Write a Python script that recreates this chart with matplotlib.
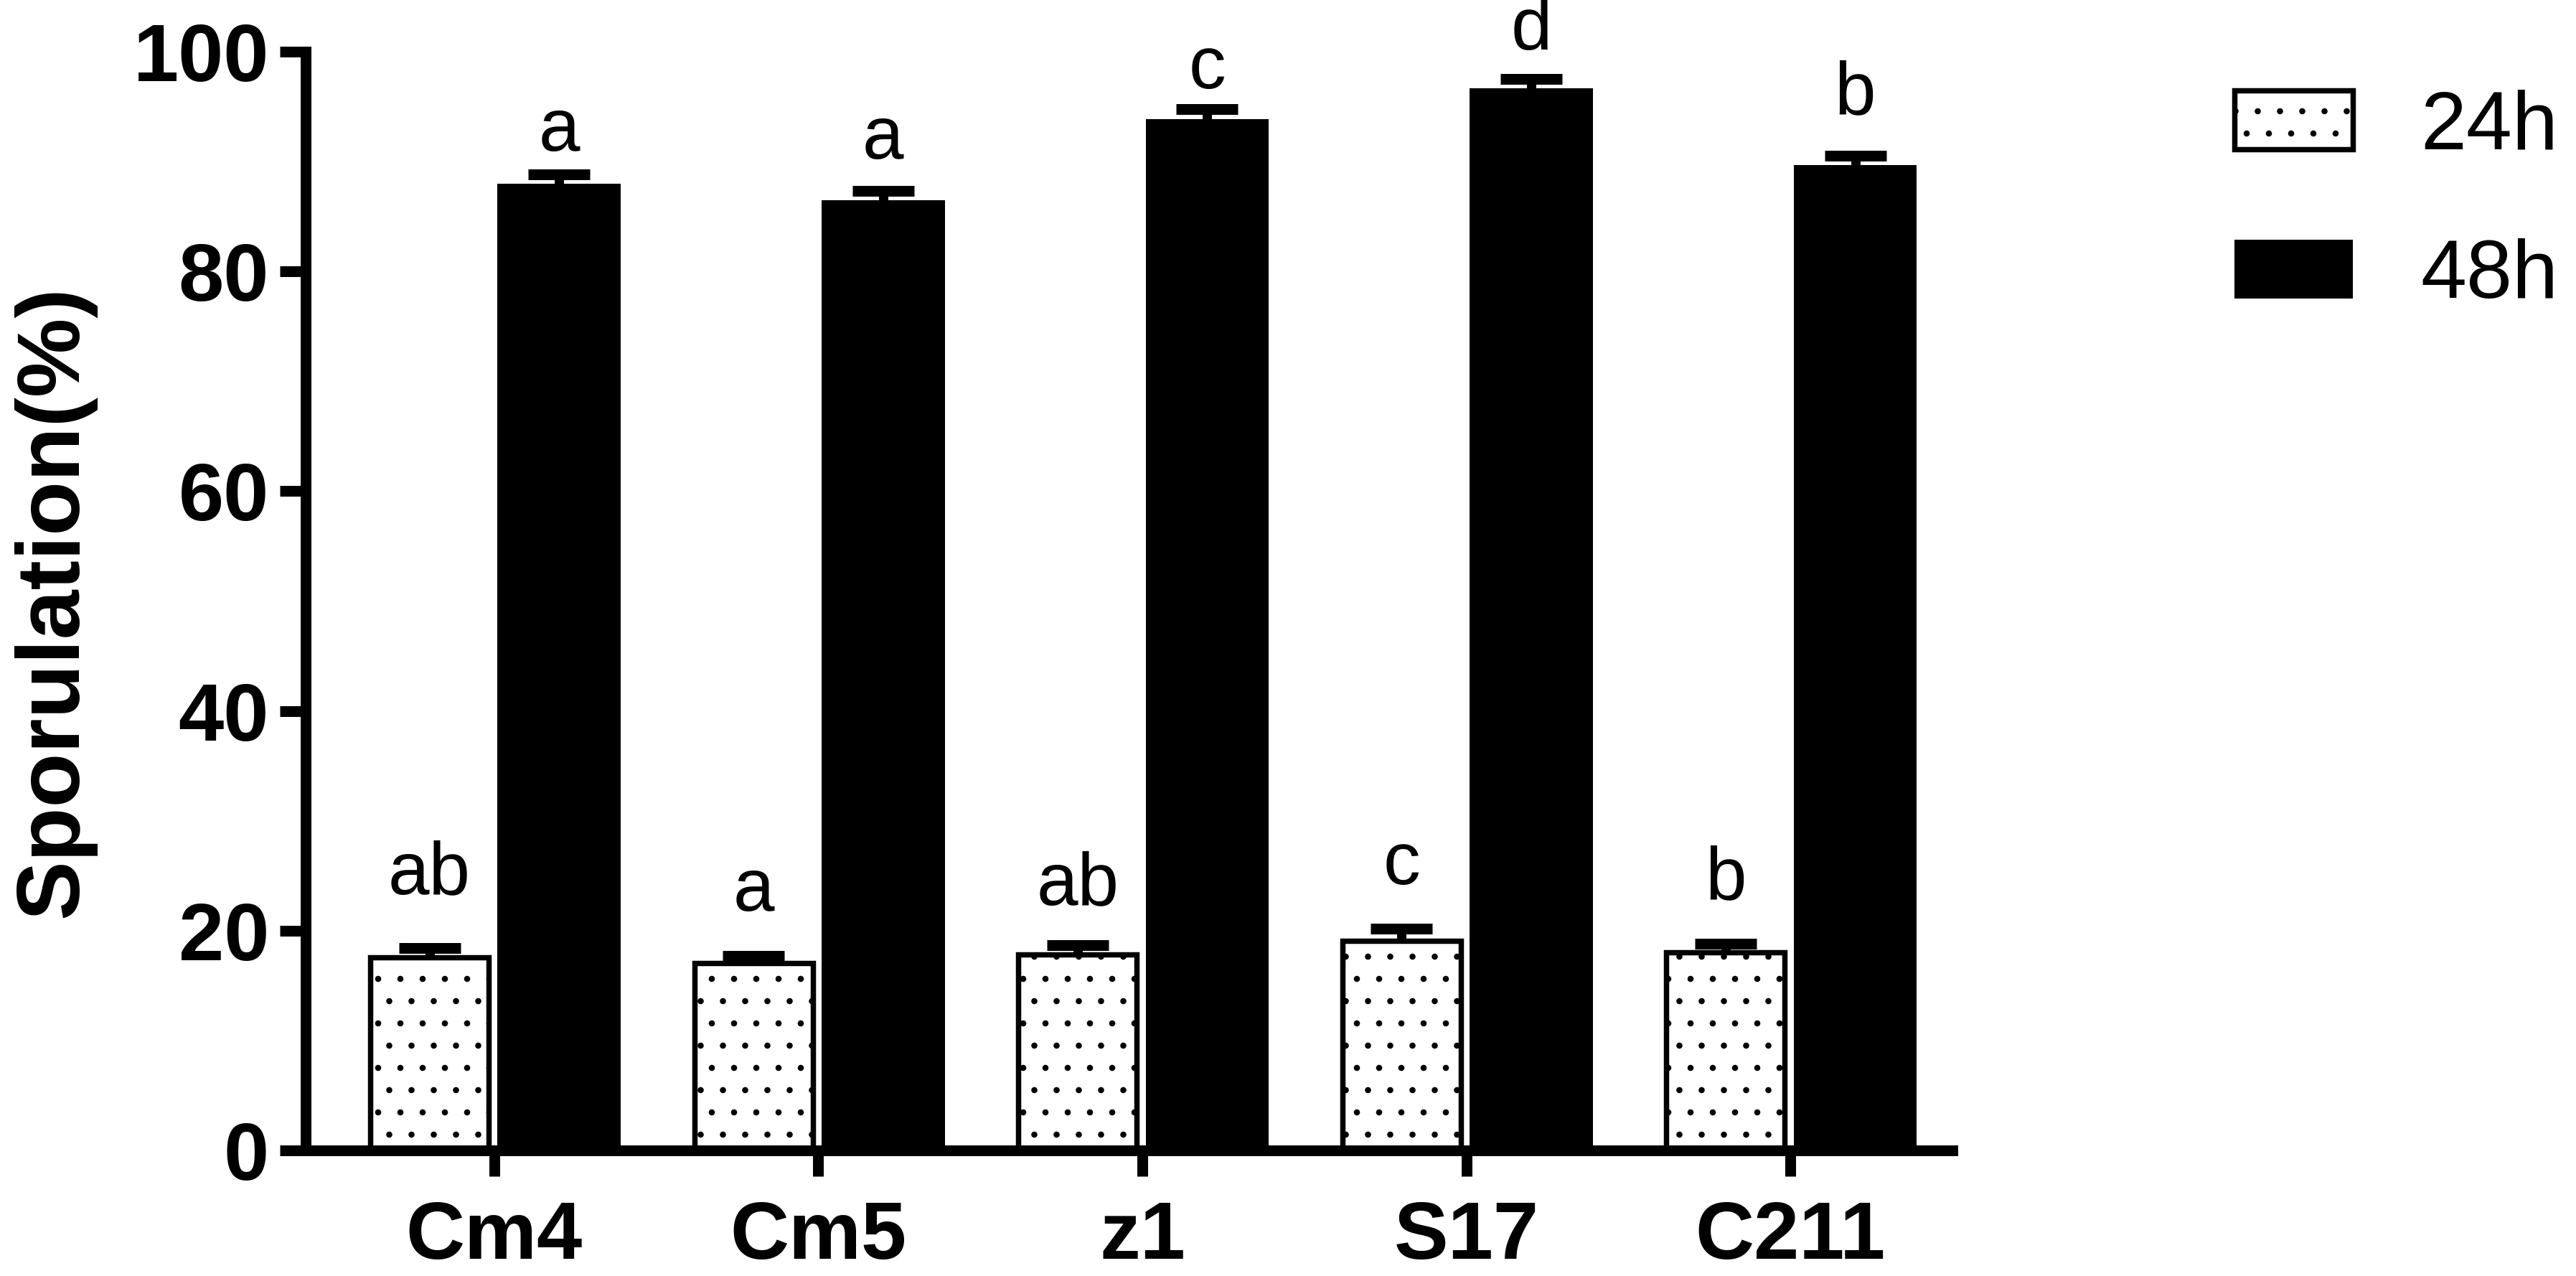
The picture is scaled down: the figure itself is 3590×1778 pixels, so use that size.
import matplotlib
matplotlib.use("Agg")
import matplotlib.pyplot as plt
import numpy as np

# data
strains = ["Cm4", "Cm5", "z1", "S17", "C211"]
h24 = [17.6, 17.05, 17.8, 19.1, 18.0]
h24_err = [0.8, 0.65, 0.85, 1.1, 0.8]
h48 = [88.0, 86.5, 93.85, 96.7, 89.7]
h48_err = [0.85, 0.8, 0.9, 0.85, 0.85]
h24_letters = ["ab", "a", "ab", "c", "b"]
h48_letters = ["a", "a", "c", "d", "b"]
# baseline heights of the letters (y units)
h24_letter_y = [23.4, 21.8, 22.4, 24.2, 22.9]
h48_letter_y = [91.0, 90.3, 96.7, 100.2, 94.4]
series = ["24h", "48h"]
yticks = [0, 20, 40, 60, 80, 100]

DPI = 186
plt.rcParams["font.family"] = ["Liberation Sans", "DejaVu Sans"]
plt.rcParams["hatch.linewidth"] = 0.9
plt.rcParams["hatch.color"] = "black"

fig = plt.figure(figsize=(3591 / DPI, 1778 / DPI), dpi=DPI)
ax = fig.add_axes([426 / 3591, 175 / 1778, 2295 / 3591, 1531 / 1778])

x = np.arange(len(strains))
off = 0.2
b24 = ax.bar(x - off, h24, width=0.365, color="white", edgecolor="black",
             linewidth=2.9, hatch=".", label=series[0], zorder=2)
b48 = ax.bar(x + off, h48, width=0.38, color="black", edgecolor="none",
             label=series[1], zorder=2)

for xs, ys, es in [(x - off, h24, h24_err), (x + off, h48, h48_err)]:
    eb = ax.errorbar(xs, ys, yerr=[np.zeros(len(es)), es], fmt="none",
                     ecolor="black", elinewidth=5.0, capsize=16.5,
                     capthick=5.8, zorder=3)
    eb[1][0].set_visible(False)  # only the upper half

for xi, lab, ly in zip(x - off, h24_letters, h24_letter_y):
    ax.text(xi, ly, lab, ha="center", va="baseline", fontsize=40,
            clip_on=False)
for xi, lab, ly in zip(x + off, h48_letters, h48_letter_y):
    ax.text(xi, ly, lab, ha="center", va="baseline", fontsize=40,
            clip_on=False)

ax.set_xlim(-0.582, 4.5)
ax.set_ylim(0, 100)
ax.set_yticks(yticks)
ax.set_xticks(x)
ax.set_xticklabels(strains)

for s in ["top", "right"]:
    ax.spines[s].set_visible(False)
for s in ["left", "bottom"]:
    ax.spines[s].set_linewidth(5.8)
    ax.spines[s].set_capstyle("projecting")

ax.tick_params(axis="both", direction="out", length=13.9, width=5.8,
               labelsize=44)
ax.tick_params(axis="y", pad=5.8)
ax.tick_params(axis="x", pad=13)
for t in ax.get_xticklabels() + ax.get_yticklabels():
    t.set_fontweight("bold")

fig.text(75 / 3591, 1 - 838 / 1778, "Sporulation(%)", rotation=90,
         ha="center", va="center", fontsize=48, fontweight="bold")

ax.legend(loc="upper left", bbox_to_anchor=(3114 / 3591, 1 - 124 / 1778),
          bbox_transform=fig.transFigure, frameon=False, borderpad=0,
          borderaxespad=0, fontsize=44.5, handlelength=1.435,
          handleheight=0.713, handletextpad=0.82, labelspacing=0.88)

fig.savefig("out.png", dpi=DPI)
